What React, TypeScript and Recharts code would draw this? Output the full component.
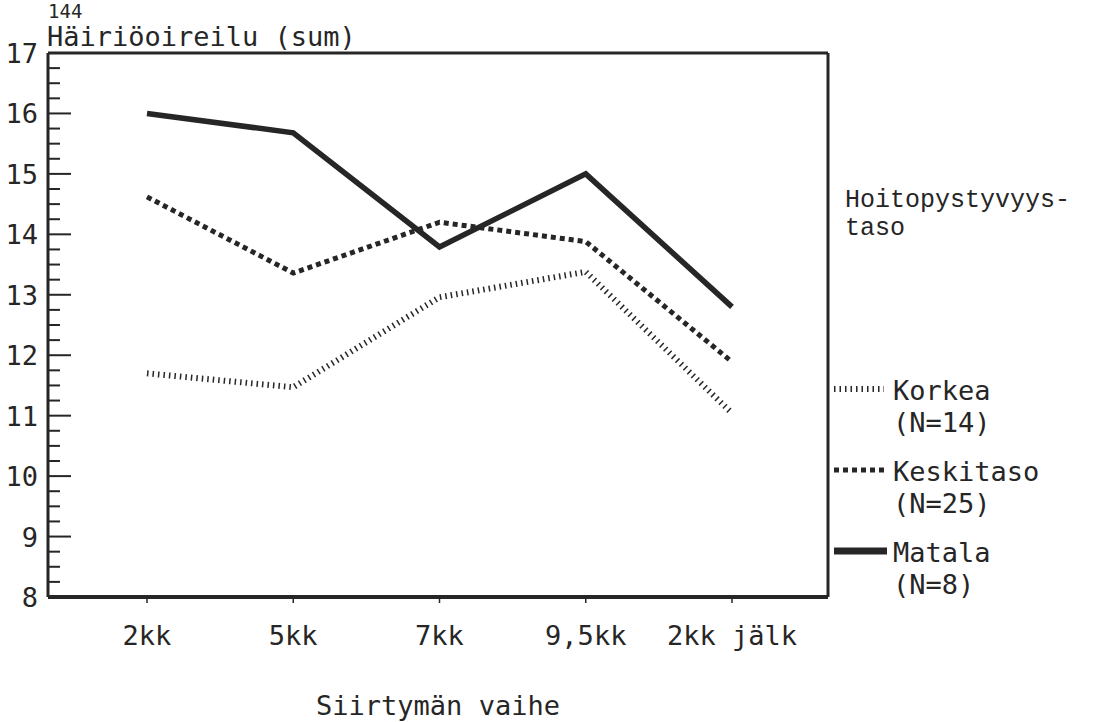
import { CartesianGrid, Legend, Line, LineChart, XAxis, YAxis } from "recharts";

// Siirtymän vaihe – häiriöoireilu (sum) hoitopystyvyystason mukaan
const categories = ["2kk", "5kk", "7kk", "9,5kk", "2kk jälk"];
const korkea = [11.7, 11.47, 12.96, 13.38, 11.04];
const keskitaso = [14.62, 13.36, 14.2, 13.88, 11.89];
const matala = [16.0, 15.68, 13.79, 15.0, 12.8];

const seriesNames = ["Korkea", "Keskitaso", "Matala"];
const seriesCounts = ["(N=14)", "(N=25)", "(N=8)"];
const yMajorTicks = [8, 9, 10, 11, 12, 13, 14, 15, 16, 17];

const pageNumber = "144";
const yTitle = "Häiriöoireilu (sum)";
const xTitle = "Siirtymän vaihe";
const legendTitle = ["Hoitopystyvyys-", "taso"];

// minor ticks every 0.25
const yTicks: number[] = [];
yMajorTicks.forEach((t, i) => {
  yTicks.push(t);
  if (i < yMajorTicks.length - 1) yTicks.push(t + 0.25, t + 0.5, t + 0.75);
});

const data = categories.map((c, i) => ({
  vaihe: c,
  korkea: korkea[i],
  keskitaso: keskitaso[i],
  matala: matala[i],
}));

const INK = "#262626";
const PLOT_FONT = "'DejaVu Sans Mono', monospace";
const TYPE_FONT = "'Liberation Mono', 'Courier New', monospace";

const styles = [
  { key: "korkea", width: 6, dash: "1.5 4" },
  { key: "keskitaso", width: 5, dash: "5 4" },
  { key: "matala", width: 5.5, dash: undefined as string | undefined },
];

const YTick = ({ x, y, payload }: any) => {
  const v = payload.value;
  const major = Number.isInteger(v);
  return (
    <g>
      <line x1={x} x2={x + (major ? 23 : 12)} y1={y} y2={y} stroke={INK} strokeWidth={2} />
      {major && (
        <text x={x - 10} y={y + 10} textAnchor="end" fill={INK} fontSize={27} fontFamily={PLOT_FONT}>
          {v}
        </text>
      )}
    </g>
  );
};

const XTick = ({ x, y, payload }: any) => (
  <text x={x} y={y + 42} textAnchor="middle" fill={INK} fontSize={27} fontFamily={PLOT_FONT}>
    {payload.value}
  </text>
);

const Titles = () => (
  <g fill={INK} fontFamily={PLOT_FONT}>
    <text x={48} y={18} fontSize={19}>{pageNumber}</text>
    <text x={47} y={46} fontSize={27}>{yTitle}</text>
    <text x={438} y={715} fontSize={27} textAnchor="middle">{xTitle}</text>
  </g>
);

const LegendBox = () => (
  <svg width={269} height={440} style={{ display: "block" }}>
    <g fill={INK} fontFamily={TYPE_FONT} fontSize={25}>
      <text x={15} y={37}>{legendTitle[0]}</text>
      <text x={15} y={65}>{legendTitle[1]}</text>
    </g>
    {seriesNames.map((name, i) => {
      const top = 219 + i * 81;
      const s = styles[i];
      return (
        <g key={name}>
          <line
            x1={4}
            x2={i === 2 ? 57 : 54}
            y1={top}
            y2={top}
            stroke={INK}
            strokeWidth={i === 2 ? 7 : s.width}
            strokeDasharray={s.dash}
          />
          <g fill={INK} fontFamily={PLOT_FONT} fontSize={27}>
            <text x={63} y={top + 11}>{name}</text>
            <text x={63} y={top + 43}>{seriesCounts[i]}</text>
          </g>
        </g>
      );
    })}
  </svg>
);

export default function App() {
  return (
    <div style={{ position: "absolute", left: 0, top: 0, background: "#fff" }}>
      <LineChart
        width={1099}
        height={722}
        data={data}
        margin={{ top: 53, right: 271, bottom: 0, left: 0 }}
      >
        {/* top and right frame lines */}
        <CartesianGrid
          stroke={INK}
          strokeWidth={3}
          horizontalCoordinatesGenerator={({ offset }: any) => [offset.top]}
          verticalCoordinatesGenerator={({ offset }: any) => [offset.left + offset.width]}
        />
        <XAxis
          dataKey="vaihe"
          type="category"
          padding={{ left: 99, right: 96 }}
          height={125}
          axisLine={{ stroke: INK, strokeWidth: 4 }}
          tickLine={{ stroke: INK, strokeWidth: 1.5 }}
          tickSize={6}
          tickMargin={0}
          tick={<XTick />}
          interval={0}
          label={<Titles />}
        />
        <YAxis
          domain={[8, 17]}
          ticks={yTicks}
          interval={0}
          width={48}
          tickSize={0}
          tickMargin={0}
          tickLine={false}
          axisLine={{ stroke: INK, strokeWidth: 3 }}
          tick={<YTick />}
        />
        <Legend
          layout="vertical"
          align="center"
          verticalAlign="middle"
          wrapperStyle={{ left: 830, top: 170, width: 269 }}
          content={() => <LegendBox />}
        />
        {styles.map((s, i) => (
          <Line
            key={s.key}
            dataKey={s.key}
            name={seriesNames[i]}
            type="linear"
            stroke={INK}
            strokeWidth={s.width}
            strokeDasharray={s.dash}
            strokeLinejoin="miter"
            dot={false}
            activeDot={false}
            isAnimationActive={false}
          />
        ))}
      </LineChart>
    </div>
  );
}
